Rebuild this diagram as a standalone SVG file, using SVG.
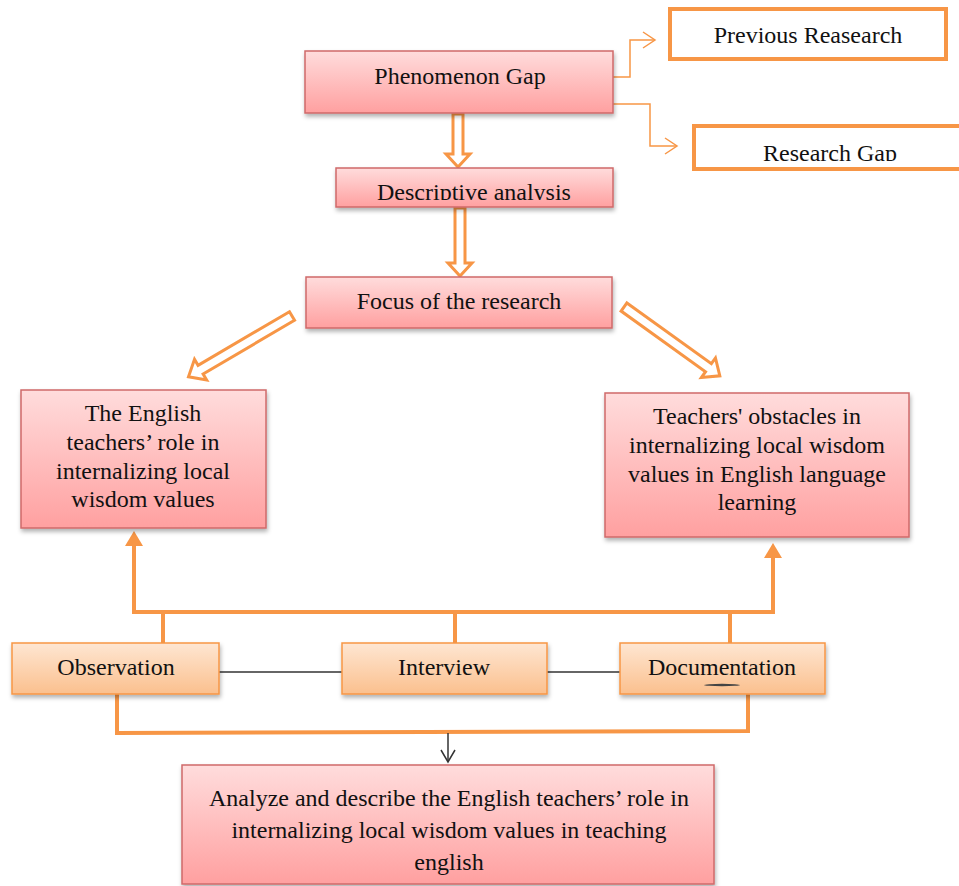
<svg xmlns="http://www.w3.org/2000/svg" width="959" height="886" viewBox="0 0 959 886">
<defs>
<linearGradient id="pink" x1="0" y1="0" x2="0" y2="1">
<stop offset="0" stop-color="#FFDCDC"/>
<stop offset="1" stop-color="#FFA0A0"/>
</linearGradient>
<linearGradient id="orng" x1="0" y1="0" x2="0" y2="1">
<stop offset="0" stop-color="#FEE6D2"/>
<stop offset="1" stop-color="#FBC08E"/>
</linearGradient>
<filter id="sh" x="-5%" y="-10%" width="115%" height="130%">
<feDropShadow dx="1" dy="3" stdDeviation="2" flood-color="#000" flood-opacity="0.3"/>
</filter>
<clipPath id="clipRG"><rect x="690" y="120" width="270" height="41"/></clipPath>
<clipPath id="clipDA"><rect x="336" y="168" width="277" height="32"/></clipPath>
</defs>
<style>
.pk{fill:url(#pink);stroke:#CF6A6A;stroke-width:1.5;filter:url(#sh)}
.og{fill:url(#orng);stroke:#F79646;stroke-width:1.5;filter:url(#sh)}
.wb{fill:#fff;stroke:#F79646;stroke-width:4}
.t{font-family:"Liberation Serif","Times New Roman",serif;font-size:24px;fill:#111;text-anchor:middle}
.ho{fill:#fff;stroke:#F79646;stroke-width:3;stroke-linejoin:miter}
.ol{fill:none;stroke:#F79646;stroke-width:4}
.tl{fill:none;stroke:#F79646;stroke-width:1.5}
.bl{fill:none;stroke:#333;stroke-width:1.5}
</style>
<g id="connectors">
<polyline class="tl" points="610,77 630,77 630,40 655,40"/>
<polyline class="tl" points="643,32 655,40 643,48"/>
<polyline class="tl" points="610,104 650,104 650,146 677,146"/>
<polyline class="tl" points="665,138 677,146 665,154"/>
<path class="ho" transform="translate(458,114) rotate(90)" d="M0,-5 L40,-5 L40,-12 L53,0 L40,12 L40,5 L0,5 Z"/>
<path class="ho" transform="translate(460,208) rotate(90)" d="M0,-5 L55,-5 L55,-12 L68,0 L55,12 L55,5 L0,5 Z"/>
<path class="ho" transform="translate(292,316) rotate(149.6)" d="M0,-5 L106,-5 L106,-12 L120,0 L106,12 L106,5 L0,5 Z"/>
<path class="ho" transform="translate(624,307) rotate(35.7)" d="M0,-5 L104,-5 L104,-12 L118,0 L104,12 L104,5 L0,5 Z"/>
<polyline class="ol" points="134,540 134,612 773,612 773,552"/>
<path d="M134,531 L125,546 L143,546 Z" fill="#F79646"/>
<path d="M773,543 L764,558 L782,558 Z" fill="#F79646"/>
<line class="ol" x1="163" y1="612" x2="163" y2="643"/>
<line class="ol" x1="455" y1="612" x2="455" y2="643"/>
<line class="ol" x1="730" y1="612" x2="730" y2="643"/>
<line class="bl" x1="219" y1="672" x2="342" y2="672"/>
<line class="bl" x1="547" y1="672" x2="620" y2="672"/>
<polyline class="ol" points="117,694 117,733 748,731 748,694"/>
<line class="bl" x1="448" y1="733" x2="448" y2="762"/>
<polyline class="bl" points="441,750 448,762 455,750"/>
</g>
<g id="prev"><rect class="wb" x="670" y="9" width="276" height="50"/><text class="t" x="808" y="43">Previous Reasearch</text></g>
<g id="gap"><rect class="wb" x="694" y="126" width="270" height="43"/><text class="t" x="830" y="161" clip-path="url(#clipRG)">Research Gap</text></g>
<g id="phen"><rect class="pk" x="305" y="51" width="308" height="62"/><text class="t" x="460" y="84">Phenomenon Gap</text></g>
<g id="desc"><rect class="pk" x="336" y="168" width="277" height="39"/><text class="t" x="474" y="200" clip-path="url(#clipDA)">Descriptive analysis</text></g>
<g id="focus"><rect class="pk" x="306" y="277" width="306" height="51"/><text class="t" x="459" y="309">Focus of the research</text></g>
<g id="role"><rect class="pk" x="21" y="390" width="245" height="138"/>
<text class="t" x="143" y="421">The English</text><text class="t" x="143" y="450">teachers’ role in</text><text class="t" x="143" y="479">internalizing local</text><text class="t" x="143" y="507">wisdom values</text></g>
<g id="obst"><rect class="pk" x="605" y="393" width="304" height="144"/>
<text class="t" x="757" y="424">Teachers' obstacles in</text><text class="t" x="757" y="453">internalizing local wisdom</text><text class="t" x="757" y="482">values in English language</text><text class="t" x="757" y="510">learning</text></g>
<g id="obs"><rect class="og" x="12" y="643" width="207" height="51"/><text class="t" x="116" y="675">Observation</text></g>
<g id="int"><rect class="og" x="342" y="643" width="205" height="51"/><text class="t" x="444" y="675">Interview</text></g>
<g id="doc"><rect class="og" x="620" y="643" width="205" height="51"/><text class="t" x="722" y="675">Documentation</text><ellipse cx="722" cy="685" rx="18" ry="1.2" fill="#444"/></g>
<g id="result"><rect class="pk" x="182" y="765" width="532" height="119"/>
<text class="t" x="449" y="806">Analyze and describe the English teachers’ role in</text><text class="t" x="449" y="838">internalizing local wisdom values in teaching</text><text class="t" x="449" y="870">english</text></g>
</svg>
